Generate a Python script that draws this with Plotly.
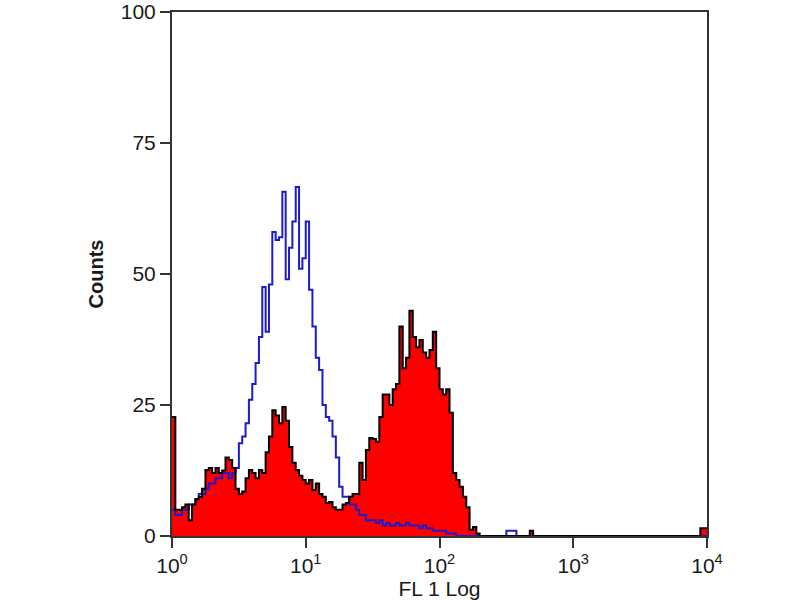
import plotly.graph_objects as go

# Histogram channels: 160 bins of 0.025 decades each, spanning 10^0 .. 10^4
BIN_WIDTH_DECADES = 0.025
N_BINS = 160

# Stained sample (red filled, black outline)
sample_counts = [
    22.7, 5, 5, 5.5, 6, 3, 6, 7, 7.5, 9,
    12.6, 13, 12, 13, 12, 12.5, 15, 14.5, 13, 9,
    8, 8.5, 11, 12.6, 12, 11, 12.6, 12, 16, 19,
    24, 23, 21.5, 24.6, 22, 17, 14, 12.6, 11.5, 10.7,
    10, 10.7, 8.8, 10, 8, 7.5, 6.3, 6.5, 5.5, 5,
    5, 6, 6.3, 7.5, 8, 8, 14, 10.7, 16.4, 18.7,
    18.5, 18, 22.7, 27, 27, 25, 28, 29, 40, 32,
    34, 43, 38, 36, 37.4, 35, 34, 35.5, 39, 32,
    28, 27, 28, 23.5, 12, 10.7, 9.4, 7.5, 5.5, 1.2,
    1.7, 0.5, 0, 0, 0, 0, 0, 0, 0, 0,
    0, 0, 0, 0, 0, 0, 0, 1, 0, 0,
    0, 0, 0, 0, 0, 0, 0, 0, 0, 0,
    0, 0, 0, 0, 0, 0, 0, 0, 0, 0,
    0, 0, 0, 0, 0, 0, 0, 0, 0, 0,
    0, 0, 0, 0, 0, 0, 0, 0, 0, 0,
    0, 0, 0, 0, 0, 0, 0, 0, 1.5, 1.5,
]

# Isotype control (blue outline)
control_counts = [
    5, 4, 4, 5, 5, 6, 6, 7, 8, 8,
    9, 10, 10, 11, 11, 12, 12, 11, 12, 13,
    17.7, 19, 21.5, 26, 29, 33, 38, 47.5, 39, 48,
    58, 56.5, 57, 65.7, 49, 55, 60, 66.6, 51, 53,
    60, 47, 40, 34, 31.7, 25, 22.7, 22, 19, 15,
    9.4, 7.5, 7.5, 6, 6, 5, 4, 4, 3, 3,
    3, 2.5, 3, 2, 2.5, 2, 2, 2.5, 2, 2,
    2.5, 2, 2, 2, 1.5, 2, 1.5, 1.5, 1, 1,
    1, 1, 0.5, 0.5, 0.5, 0, 0, 0, 0, 0,
    0, 0, 0, 0, 0, 0, 0, 0, 0, 0,
    1, 1, 1, 0, 0, 0, 0, 0, 0, 0,
    0, 0, 0, 0, 0, 0, 0, 0, 0, 0,
    0, 0, 0, 0, 0, 0, 0, 0, 0, 0,
    0, 0, 0, 0, 0, 0, 0, 0, 0, 0,
    0, 0, 0, 0, 0, 0, 0, 0, 0, 0,
    0, 0, 0, 0, 0, 0, 0, 0, 0, 0,
]

x_tick_values = [1, 10, 100, 1000, 10000]
x_tick_labels = ["10<sup>0</sup>", "10<sup>1</sup>", "10<sup>2</sup>", "10<sup>3</sup>", "10<sup>4</sup>"]
y_tick_values = [0, 25, 50, 75, 100]
x_title = "FL 1 Log"
y_title = "Counts"

# bin left edges (plus final right edge) for step drawing
edges = [10 ** (i * BIN_WIDTH_DECADES) for i in range(N_BINS + 1)]


def step(counts):
    return edges, list(counts) + [counts[-1]]


fig = go.Figure()

sx, sy = step(sample_counts)
fig.add_trace(go.Scatter(
    x=sx, y=sy, mode="lines", line=dict(shape="hv", width=0, color="#ff0000"),
    fill="tozeroy", fillcolor="#ff0000", hoverinfo="skip", showlegend=False,
))
cx, cy = step(control_counts)
fig.add_trace(go.Scatter(
    x=cx, y=cy, mode="lines", line=dict(shape="hv", width=2, color="#1c1cc8"),
    showlegend=False,
))
fig.add_trace(go.Scatter(
    x=sx, y=sy, mode="lines", line=dict(shape="hv", width=2, color="#000000"),
    showlegend=False,
))

axis_font = dict(family="Liberation Sans, Arial, sans-serif", size=21, color="#1a1a1a")

fig.update_layout(
    width=800, height=600,
    margin=dict(l=172, r=93, t=12, b=64, autoexpand=False),
    paper_bgcolor="white", plot_bgcolor="white",
    font=axis_font,
    xaxis=dict(
        type="log", range=[0, 4], tickvals=x_tick_values, ticktext=x_tick_labels,
        ticks="outside", ticklen=10, tickwidth=2, tickcolor="#333333",
        showline=True, linecolor="#333333", linewidth=2, mirror=True,
        showgrid=False, zeroline=False, automargin=False,
        ticklabeloverflow="allow",
        title=dict(text=x_title, standoff=2, font=dict(size=21)),
    ),
    yaxis=dict(
        range=[0, 100], tickvals=y_tick_values,
        ticks="outside", ticklen=10, tickwidth=2, tickcolor="#333333",
        showline=True, linecolor="#333333", linewidth=2, mirror=True,
        showgrid=False, zeroline=False, automargin=False,
        ticklabeloverflow="allow",
        title=dict(text="<b>" + y_title + "</b>", standoff=12, font=dict(size=20)),
    ),
)

fig.write_html(
    "out.html",
    config={"displayModeBar": False},
    post_script="document.body.style.margin='0px';",
)
